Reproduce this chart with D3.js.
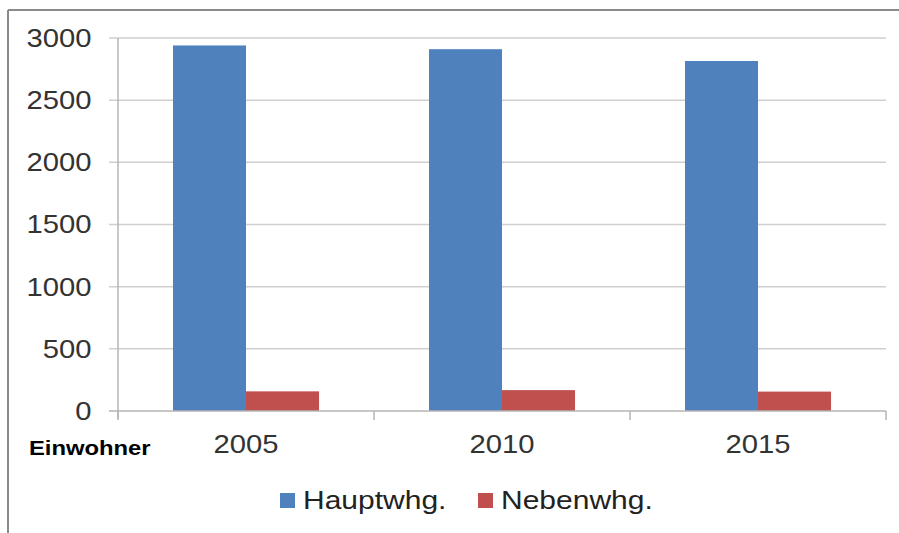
<!DOCTYPE html>
<html>
<head>
<meta charset="utf-8">
<script src="https://cdn.jsdelivr.net/npm/d3@7"></script>
<style>
  html, body { margin: 0; padding: 0; background: #fff; }
  svg { display: block; }
  text { font-family: "Liberation Sans", Arial, sans-serif; }
</style>
</head>
<body>
<svg id="chart" width="899" height="533"></svg>
<script>
const categories = ["2005", "2010", "2015"];
const seriesNames = ["Hauptwhg.", "Nebenwhg."];
const hauptwhg = [2940, 2910, 2815];
const nebenwhg = [158, 168, 156];
const yTicks = [0, 500, 1000, 1500, 2000, 2500, 3000];
const colors = ["#4F81BD", "#C0504D"];
const axisTitle = "Einwohner";

const values = [hauptwhg, nebenwhg];
const svg = d3.select("#chart");
const SX = 1.17;

// outer frame (top and left edges)
svg.append("line").attr("x1", 8).attr("x2", 899).attr("y1", 10).attr("y2", 10)
  .attr("stroke", "#8a8a8a").attr("stroke-width", 2);
svg.append("line").attr("x1", 8).attr("x2", 8).attr("y1", 10).attr("y2", 533)
  .attr("stroke", "#8a8a8a").attr("stroke-width", 2);

const plot = { left: 118, right: 886, top: 38, bottom: 411 };

const y = d3.scaleLinear().domain([0, 3000]).range([plot.bottom, plot.top]);
const x = d3.scaleBand().domain(categories).range([plot.left, plot.right]).padding(0);
const xs = d3.scaleBand().domain(seriesNames).range([0, x.bandwidth()])
  .paddingInner(0).paddingOuter(0.753);

// gridlines
svg.append("g").selectAll("line").data(yTicks.filter(d => d > 0)).join("line")
  .attr("x1", plot.left - 9).attr("x2", plot.right)
  .attr("y1", d => y(d)).attr("y2", d => y(d))
  .attr("stroke", "#cfcfcf").attr("stroke-width", 1.5);

// y axis line
svg.append("line").attr("x1", plot.left).attr("x2", plot.left)
  .attr("y1", plot.top).attr("y2", plot.bottom + 7)
  .attr("stroke", "#b5b5b5").attr("stroke-width", 1.5);

// y labels
svg.append("g").selectAll("text").data(yTicks).join("text")
  .attr("transform", d => `translate(91.5,${y(d)}) scale(${SX},1)`)
  .attr("text-anchor", "end").attr("dy", "0.355em")
  .attr("font-size", 25).attr("fill", "#333")
  .text(d => d);

// bars
categories.forEach((c, i) => {
  seriesNames.forEach((s, j) => {
    svg.append("rect")
      .attr("x", x(c) + xs(s))
      .attr("width", xs.bandwidth())
      .attr("y", y(values[j][i]))
      .attr("height", y(0) - y(values[j][i]))
      .attr("fill", colors[j]);
  });
});

// x axis line
svg.append("line").attr("x1", plot.left - 9).attr("x2", plot.right)
  .attr("y1", plot.bottom).attr("y2", plot.bottom)
  .attr("stroke", "#b5b5b5").attr("stroke-width", 1.5);
// x ticks at category boundaries
const bounds = categories.map(c => x(c)).concat([plot.right]);
svg.append("g").selectAll("line").data(bounds).join("line")
  .attr("x1", d => d).attr("x2", d => d)
  .attr("y1", plot.bottom).attr("y2", plot.bottom + 9)
  .attr("stroke", "#b5b5b5").attr("stroke-width", 1.5);

// x labels
svg.append("g").selectAll("text").data(categories).join("text")
  .attr("transform", d => `translate(${x(d) + x.bandwidth() / 2},453) scale(${SX},1)`)
  .attr("text-anchor", "middle")
  .attr("font-size", 25).attr("fill", "#333")
  .text(d => d);

// axis title
svg.append("text")
  .attr("transform", `translate(29,455) scale(1.19,1)`)
  .attr("font-size", 20).attr("font-weight", "bold").attr("fill", "#000")
  .text(axisTitle);

// legend
const legendX = [280, 478];
const lg = svg.append("g");
seriesNames.forEach((s, j) => {
  lg.append("rect").attr("x", legendX[j]).attr("y", 493)
    .attr("width", 15).attr("height", 15).attr("fill", colors[j]);
  lg.append("text")
    .attr("transform", `translate(${legendX[j] + 23},509) scale(1.2,1)`)
    .attr("font-size", 25).attr("fill", "#222")
    .text(s);
});
</script>
</body>
</html>
